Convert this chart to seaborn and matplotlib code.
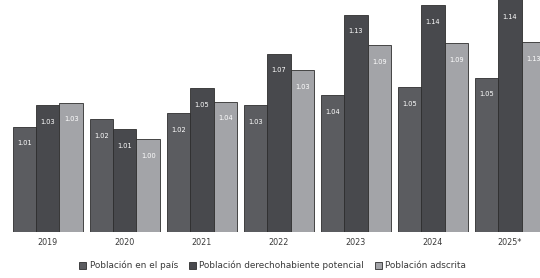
import pandas as pd
import numpy as np
import matplotlib
matplotlib.use('Agg')
import matplotlib.pyplot as plt
import seaborn as sns

# data
years = ['2019', '2020', '2021', '2022', '2023', '2024', '2025*']
series = ['Población en el país', 'Población derechohabiente potencial', 'Población adscrita']

pais = [1.013, 1.021, 1.027, 1.035, 1.046, 1.054, 1.064]
potencial = [1.035, 1.010, 1.053, 1.089, 1.130, 1.140, 1.150]
adscrita = [1.038, 1.000, 1.039, 1.072, 1.098, 1.100, 1.101]

pais_lbl = ['1.01', '1.02', '1.02', '1.03', '1.04', '1.05', '1.05']
potencial_lbl = ['1.03', '1.01', '1.05', '1.07', '1.13', '1.14', '1.14']
adscrita_lbl = ['1.03', '1.00', '1.04', '1.03', '1.09', '1.09', '1.13']

colors = ['#5a5c61', '#47494e', '#a2a3a9']

df = pd.DataFrame({
    'year': years * 3,
    'serie': [series[0]] * 7 + [series[1]] * 7 + [series[2]] * 7,
    'valor': pais + potencial + adscrita,
})

sns.set_style('white')
plt.rcParams['font.family'] = ['DejaVu Sans']

fig = plt.figure(figsize=(5.4, 2.78), dpi=100)
ax = fig.add_axes([0.0, 46 / 278, 1.0, 232 / 278])

sns.barplot(data=df, x='year', y='valor', hue='serie', palette=colors,
            width=0.91, edgecolor='#2e2e2e', linewidth=0.6, ax=ax, legend=True)

# labels inside the bars
all_lbls = [pais_lbl, potencial_lbl, adscrita_lbl]
for cont, lbls in zip(ax.containers, all_lbls):
    for bar, txt in zip(cont, lbls):
        x = bar.get_x() + bar.get_width() / 2
        top = min(bar.get_height() + bar.get_y(), 1.145)
        ax.annotate(txt, (x, top), xytext=(0, -12), textcoords='offset points',
                    ha='center', va='center', fontsize=4.8, color='white')

ax.set_ylim(0.9028, 1.1452)
ax.set_xlim(-0.62, 6.39)
ax.set_xlabel('')
ax.set_ylabel('')
ax.set_yticks([])
ax.tick_params(axis='x', length=0, labelsize=5.8, labelcolor='#3a3a3a', pad=4)
for s in ax.spines.values():
    s.set_visible(False)

h, l = ax.get_legend_handles_labels()
ax.get_legend().remove()
fig.legend(h, l, loc='center', bbox_to_anchor=(0.505, 0.045), ncol=3, frameon=False,
           fontsize=6.4, handlelength=0.8, handleheight=0.8, handletextpad=0.4,
           columnspacing=1.2, labelcolor='#3a3a3a')

fig.savefig('out.png', dpi=100)
